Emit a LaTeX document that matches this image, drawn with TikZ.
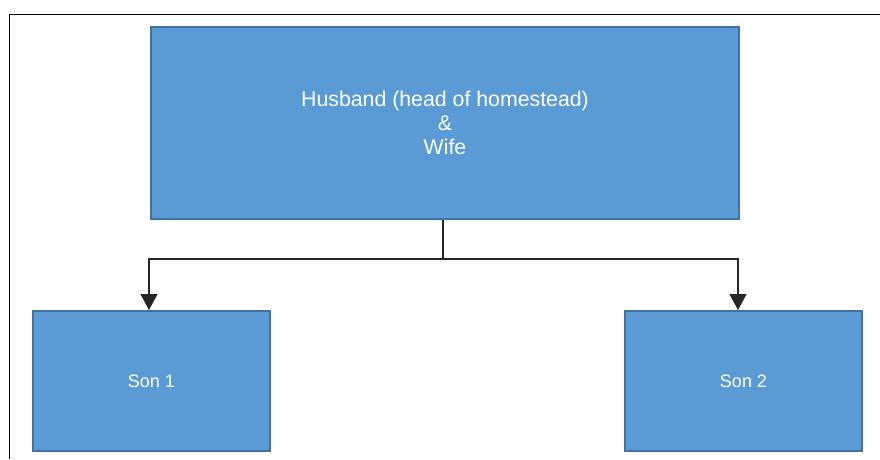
\documentclass[tikz,border=0pt]{standalone}
\usepackage{fontspec}
\setmainfont{Liberation Sans}
\usetikzlibrary{arrows.meta}
\definecolor{boxfill}{HTML}{5B9BD5}
\definecolor{boxdraw}{HTML}{41719C}
\begin{document}
\begin{tikzpicture}[x=1pt,y=-1pt,
  famblock/.style={draw=boxdraw,fill=boxfill,line width=2pt,text=white,
    font=\fontsize{21.3}{24}\selectfont,align=center,inner sep=0pt,anchor=north west},
  sonblock/.style={famblock,font=\fontsize{18}{22}\selectfont,
    minimum width=237pt,minimum height=140pt},
  link/.style={draw=black!85,line width=1.3pt},
  linkarrow/.style={link,-{Triangle[length=16pt,width=17pt]}}]
\useasboundingbox (0,0) rectangle (880,459);
\draw[line width=1.6pt] (880,14.5) -- (9.5,14.5) -- (9.5,459);
\node[famblock,minimum width=588pt,minimum height=192pt] (top) at (150,26)
  {Husband (head of homestead)\\\&\\Wife};
\node[sonblock] (son1) at (32,310) {Son 1};
\node[sonblock] (son2) at (624,310) {Son 2};
\coordinate (split) at (443,259);
\draw[link] (top.south -| split) -- (split);
\draw[linkarrow] (split) -- (149,259) -- (son1.north -| 149,0);
\draw[linkarrow] (split) -- (738,259) -- (son2.north -| 738,0);
\end{tikzpicture}
\end{document}
